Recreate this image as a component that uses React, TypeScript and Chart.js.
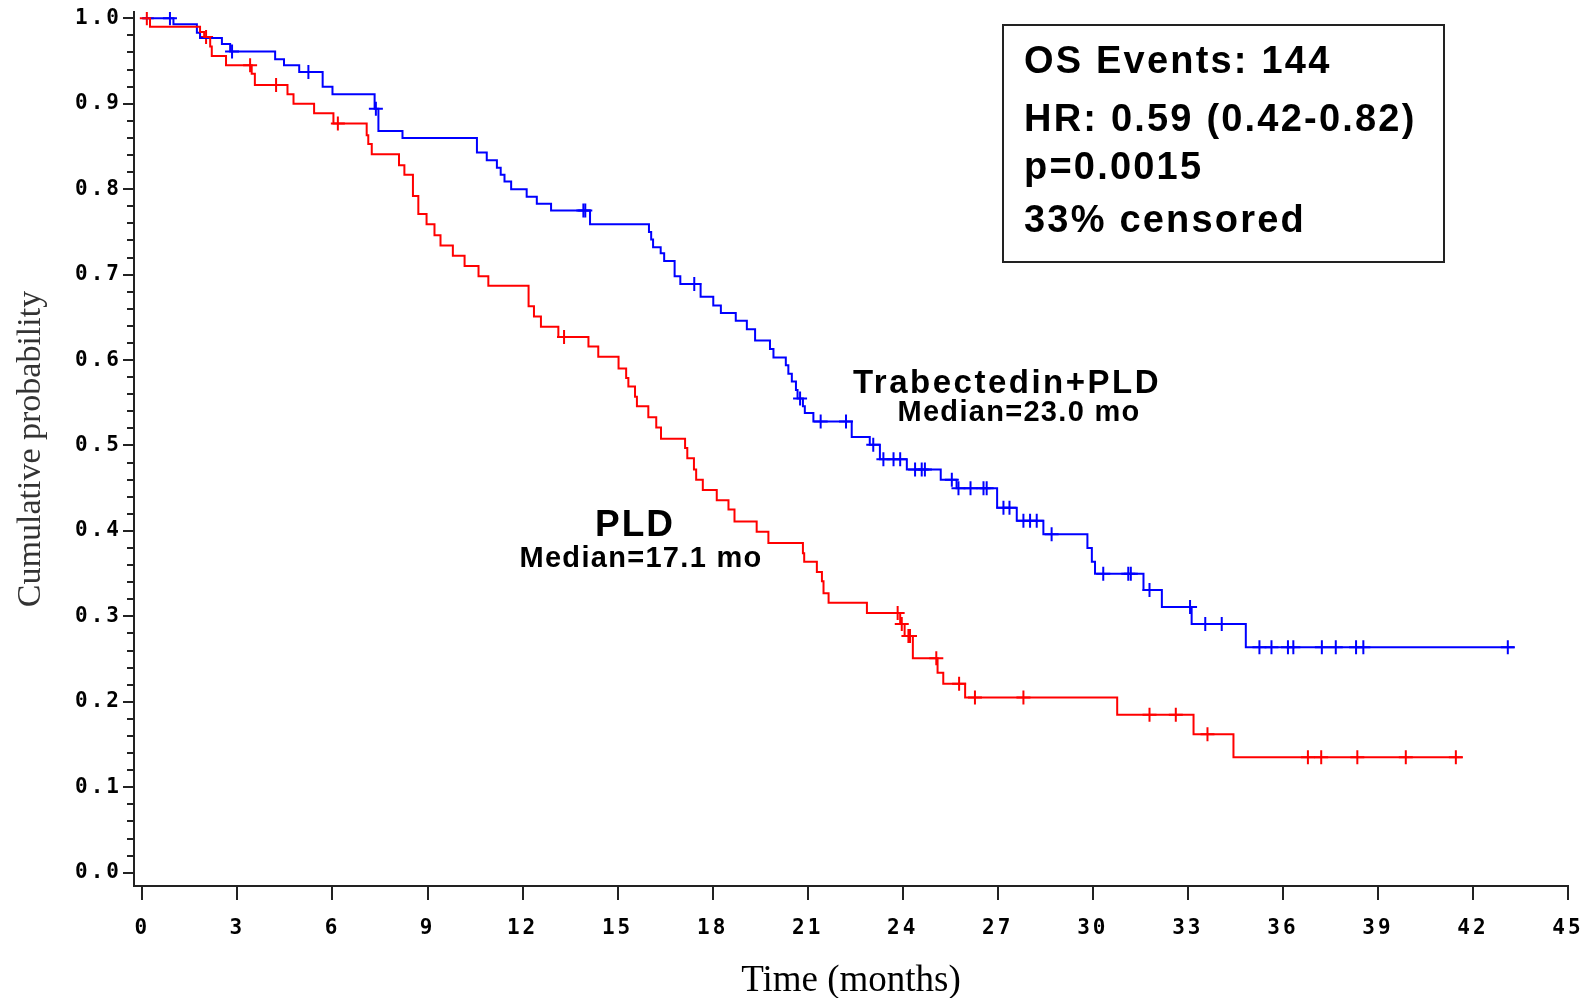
import React, { useEffect, useRef } from "react";
import { Chart, registerables } from "chart.js";

Chart.register(...registerables);

// ---- axis ticks ----
const X_TICKS = [0, 3, 6, 9, 12, 15, 18, 21, 24, 27, 30, 33, 36, 39, 42, 45];
const Y_TICKS = [0.0, 0.1, 0.2, 0.3, 0.4, 0.5, 0.6, 0.7, 0.8, 0.9, 1.0];
const Y_MINOR_STEP = 0.02;

// ---- Trabectedin+PLD (blue) : event times (months) and survival after each event ----
const TRAB_T = [0.98, 1.72, 1.82, 2.51, 2.77, 4.19, 4.47, 4.95, 5.69, 6.0, 7.33, 7.45, 8.21, 10.56, 10.87, 11.19, 11.31, 11.43, 11.64, 12.13, 12.45, 12.9, 14.13, 15.99, 16.06, 16.12, 16.36, 16.47, 16.8, 16.98, 17.62, 18.02, 18.26, 18.73, 19.08, 19.34, 19.81, 19.92, 20.31, 20.39, 20.5, 20.63, 20.68, 20.85, 20.91, 21.18, 22.39, 22.96, 23.28, 24.13, 25.2, 25.7, 26.98, 27.6, 28.44, 29.83, 29.97, 30.07, 31.6, 32.18, 33.12, 34.83];
const TRAB_S = [0.993, 0.983, 0.977, 0.97, 0.961, 0.952, 0.945, 0.937, 0.92, 0.911, 0.894, 0.868, 0.86, 0.843, 0.834, 0.825, 0.817, 0.809, 0.8, 0.791, 0.783, 0.775, 0.759, 0.75, 0.741, 0.732, 0.725, 0.716, 0.698, 0.689, 0.674, 0.664, 0.655, 0.646, 0.636, 0.623, 0.613, 0.603, 0.594, 0.584, 0.575, 0.565, 0.555, 0.546, 0.538, 0.528, 0.51, 0.501, 0.484, 0.472, 0.46, 0.45, 0.427, 0.412, 0.396, 0.38, 0.364, 0.35, 0.331, 0.311, 0.291, 0.264];
const TRAB_CENSORED = [0.87, 2.83, 5.24, 7.37, 13.92, 13.98, 17.42, 20.76, 21.41, 22.21, 23.07, 23.39, 23.71, 23.92, 24.39, 24.6, 24.7, 25.55, 25.76, 26.14, 26.55, 26.65, 27.18, 27.37, 27.81, 28.02, 28.23, 28.7, 30.33, 31.12, 31.2, 31.79, 33.07, 33.55, 34.07, 35.26, 35.64, 36.16, 36.33, 37.23, 37.67, 38.31, 38.54, 43.1];
const TRAB_END = 43.31;

// ---- PLD (red) ----
const PLD_T = [0.24, 1.82, 1.95, 2.14, 2.19, 2.64, 3.45, 3.55, 4.58, 4.77, 5.42, 6.03, 7.08, 7.13, 7.24, 8.1, 8.27, 8.54, 8.71, 8.97, 9.22, 9.41, 9.8, 10.17, 10.61, 10.92, 12.19, 12.36, 12.58, 13.13, 14.08, 14.39, 15.03, 15.27, 15.34, 15.55, 15.61, 15.97, 16.22, 16.37, 17.13, 17.2, 17.41, 17.48, 17.69, 18.13, 18.5, 18.69, 19.39, 19.76, 20.85, 20.89, 21.29, 21.45, 21.5, 21.66, 22.87, 23.92, 24.06, 24.32, 25.1, 25.28, 25.97, 30.77, 33.18, 34.44];
const PLD_S = [0.99, 0.984, 0.978, 0.967, 0.956, 0.945, 0.935, 0.922, 0.911, 0.9, 0.889, 0.877, 0.863, 0.853, 0.841, 0.828, 0.817, 0.792, 0.771, 0.759, 0.746, 0.734, 0.722, 0.71, 0.698, 0.687, 0.663, 0.651, 0.639, 0.627, 0.616, 0.604, 0.59, 0.579, 0.569, 0.557, 0.546, 0.533, 0.521, 0.508, 0.497, 0.485, 0.472, 0.46, 0.448, 0.436, 0.425, 0.411, 0.399, 0.386, 0.374, 0.364, 0.352, 0.341, 0.327, 0.316, 0.304, 0.291, 0.277, 0.251, 0.234, 0.221, 0.205, 0.185, 0.162, 0.135];
const PLD_CENSORED = [0.14, 2.01, 3.4, 4.22, 6.17, 13.31, 23.84, 23.97, 24.18, 24.23, 25.06, 25.78, 26.28, 27.81, 31.79, 32.62, 33.62, 36.79, 37.21, 38.35, 39.88, 41.46];
const PLD_END = 41.67;

// ---- text ----
const STATS_LINES = ["OS Events: 144", "HR: 0.59 (0.42-0.82)", "p=0.0015", "33% censored"];
const TRAB_LABEL = "Trabectedin+PLD";
const TRAB_MEDIAN = "Median=23.0 mo";
const PLD_LABEL = "PLD";
const PLD_MEDIAN = "Median=17.1 mo";

const RED = "#ff0000";
const BLUE = "#0000ff";
const AXIS = "#222222";

function stepPoints(times: number[], surv: number[], end: number) {
  const pts = [{ x: 0, y: 1 }];
  times.forEach((t, i) => pts.push({ x: t, y: surv[i] }));
  pts.push({ x: end, y: surv[surv.length - 1] });
  return pts;
}

function survAt(times: number[], surv: number[], t: number) {
  let s = 1;
  for (let i = 0; i < times.length; i++) if (times[i] <= t) s = surv[i];
  return s;
}

function censorPoints(times: number[], surv: number[], cens: number[]) {
  return cens.map((t) => ({ x: t, y: survAt(times, surv, t) }));
}

const overlayPlugin = {
  id: "overlay",
  beforeDraw(chart: any) {
    (chart.ctx as any).letterSpacing = "0px";
  },
  afterDatasetsDraw(chart: any) {
    (chart.ctx as any).letterSpacing = "3px";
  },
  afterDraw(chart: any) {
    const ctx = chart.ctx as any;
    ctx.save();
    ctx.letterSpacing = "0px";
    // minor ticks on y axis
    const ys = chart.scales.y;
    const left = chart.chartArea.left;
    ctx.strokeStyle = AXIS;
    ctx.lineWidth = 2;
    const n = Math.round(1 / Y_MINOR_STEP);
    for (let i = 1; i < n; i++) {
      if (i % 5 === 0) continue;
      const py = Math.round(ys.getPixelForValue(i * Y_MINOR_STEP));
      ctx.beginPath();
      ctx.moveTo(left - 7, py);
      ctx.lineTo(left, py);
      ctx.stroke();
    }
    // stats box
    ctx.lineWidth = 2;
    ctx.strokeStyle = "#222";
    ctx.strokeRect(1003, 25, 441, 237);
    ctx.fillStyle = "#000";
    ctx.textAlign = "left";
    ctx.textBaseline = "middle";
    ctx.font = "bold 38px 'Liberation Sans', Arial, sans-serif";
    ctx.letterSpacing = "2.2px";
    const ys2 = [63, 121, 169, 222];
    STATS_LINES.forEach((s, i) => ctx.fillText(s, 1024, ys2[i]));
    // curve labels
    ctx.textAlign = "center";
    ctx.font = "bold 33px 'Liberation Sans', Arial, sans-serif";
    ctx.letterSpacing = "2.5px";
    ctx.fillText(TRAB_LABEL, 1007, 384);
    ctx.font = "bold 29px 'Liberation Sans', Arial, sans-serif";
    ctx.letterSpacing = "1.3px";
    ctx.fillText(TRAB_MEDIAN, 1019, 413);
    ctx.font = "bold 37px 'Liberation Sans', Arial, sans-serif";
    ctx.letterSpacing = "2px";
    ctx.fillText(PLD_LABEL, 635, 526);
    ctx.font = "bold 29px 'Liberation Sans', Arial, sans-serif";
    ctx.letterSpacing = "1.3px";
    ctx.fillText(PLD_MEDIAN, 641, 559);
    ctx.restore();
    ctx.letterSpacing = "0px";
  },
};

export default function App() {
  const ref = useRef<HTMLCanvasElement | null>(null);

  useEffect(() => {
    document.body.style.margin = "0";
    const canvas = ref.current;
    if (!canvas) return;
    const tickFont = { family: "'DejaVu Sans Mono', monospace", weight: "bold" as const, size: 21 };
    const chart = new Chart(canvas, {
      type: "scatter",
      data: {
        datasets: [
          {
            label: "PLD",
            data: stepPoints(PLD_T, PLD_S, PLD_END),
            showLine: true,
            stepped: "before",
            borderColor: RED,
            borderWidth: 2,
            pointRadius: 0,
            fill: false,
          } as any,
          {
            label: "Trabectedin+PLD",
            data: stepPoints(TRAB_T, TRAB_S, TRAB_END),
            showLine: true,
            stepped: "before",
            borderColor: BLUE,
            borderWidth: 2,
            pointRadius: 0,
            fill: false,
          } as any,
          {
            label: "PLD censored",
            data: censorPoints(PLD_T, PLD_S, PLD_CENSORED),
            showLine: false,
            pointStyle: "cross",
            pointRadius: 7,
            pointBorderWidth: 2,
            pointBorderColor: RED,
            pointBackgroundColor: RED,
            borderColor: RED,
          } as any,
          {
            label: "Trabectedin+PLD censored",
            data: censorPoints(TRAB_T, TRAB_S, TRAB_CENSORED),
            showLine: false,
            pointStyle: "cross",
            pointRadius: 7,
            pointBorderWidth: 2,
            pointBorderColor: BLUE,
            pointBackgroundColor: BLUE,
            borderColor: BLUE,
          } as any,
        ],
      },
      options: {
        responsive: false,
        animation: false,
        devicePixelRatio: 1,
        layout: { padding: { left: 0, right: 25, top: 12, bottom: 0 } },
        plugins: {
          legend: { display: false },
          tooltip: { enabled: false },
        },
        scales: {
          x: {
            type: "linear",
            min: -0.265,
            max: 45,
            afterBuildTicks: (s: any) => {
              s.ticks = X_TICKS.map((v) => ({ value: v }));
            },
            afterFit: (s: any) => {
              s.height = 112;
              s.paddingLeft = 0;
              s.paddingRight = 0;
            },
            grid: { drawOnChartArea: false, drawTicks: true, tickLength: 14, color: AXIS, lineWidth: 2 },
            border: { display: true, color: AXIS, width: 2 },
            ticks: {
              z: 1,
              autoSkip: false,
              maxRotation: 0,
              padding: 16,
              color: "#000",
              font: tickFont,
              callback: (v: any) => String(v),
            },
            title: {
              display: true,
              text: "Time (months)",
              color: "#000",
              font: { family: "'Liberation Serif', 'Times New Roman', serif", size: 37, lineHeight: 1 },
              padding: { top: 0, bottom: -2 },
            },
          },
          y: {
            type: "linear",
            min: -0.01557,
            max: 1.00737,
            afterBuildTicks: (s: any) => {
              s.ticks = Y_TICKS.map((v) => ({ value: v }));
            },
            afterFit: (s: any) => {
              s.width = 134;
              s.paddingTop = 0;
              s.paddingBottom = 0;
            },
            grid: { drawOnChartArea: false, drawTicks: true, tickLength: 11, color: AXIS, lineWidth: 2 },
            border: { display: true, color: AXIS, width: 2 },
            ticks: {
              z: 1,
              autoSkip: false,
              padding: 1,
              color: "#000",
              font: tickFont,
              callback: (v: any) => Number(v).toFixed(1),
            },
            title: {
              display: true,
              text: "Cumulative probability",
              color: "#333",
              font: { family: "'Liberation Serif', 'Times New Roman', serif", size: 34, lineHeight: 1 },
              padding: { top: 14, bottom: 0 },
            },
          },
        },
      },
      plugins: [overlayPlugin],
    });
    return () => chart.destroy();
  }, []);

  return (
    <div style={{ position: "fixed", left: 0, top: 0 }}>
      <canvas ref={ref} width={1593} height={998} style={{ display: "block" }} />
    </div>
  );
}
